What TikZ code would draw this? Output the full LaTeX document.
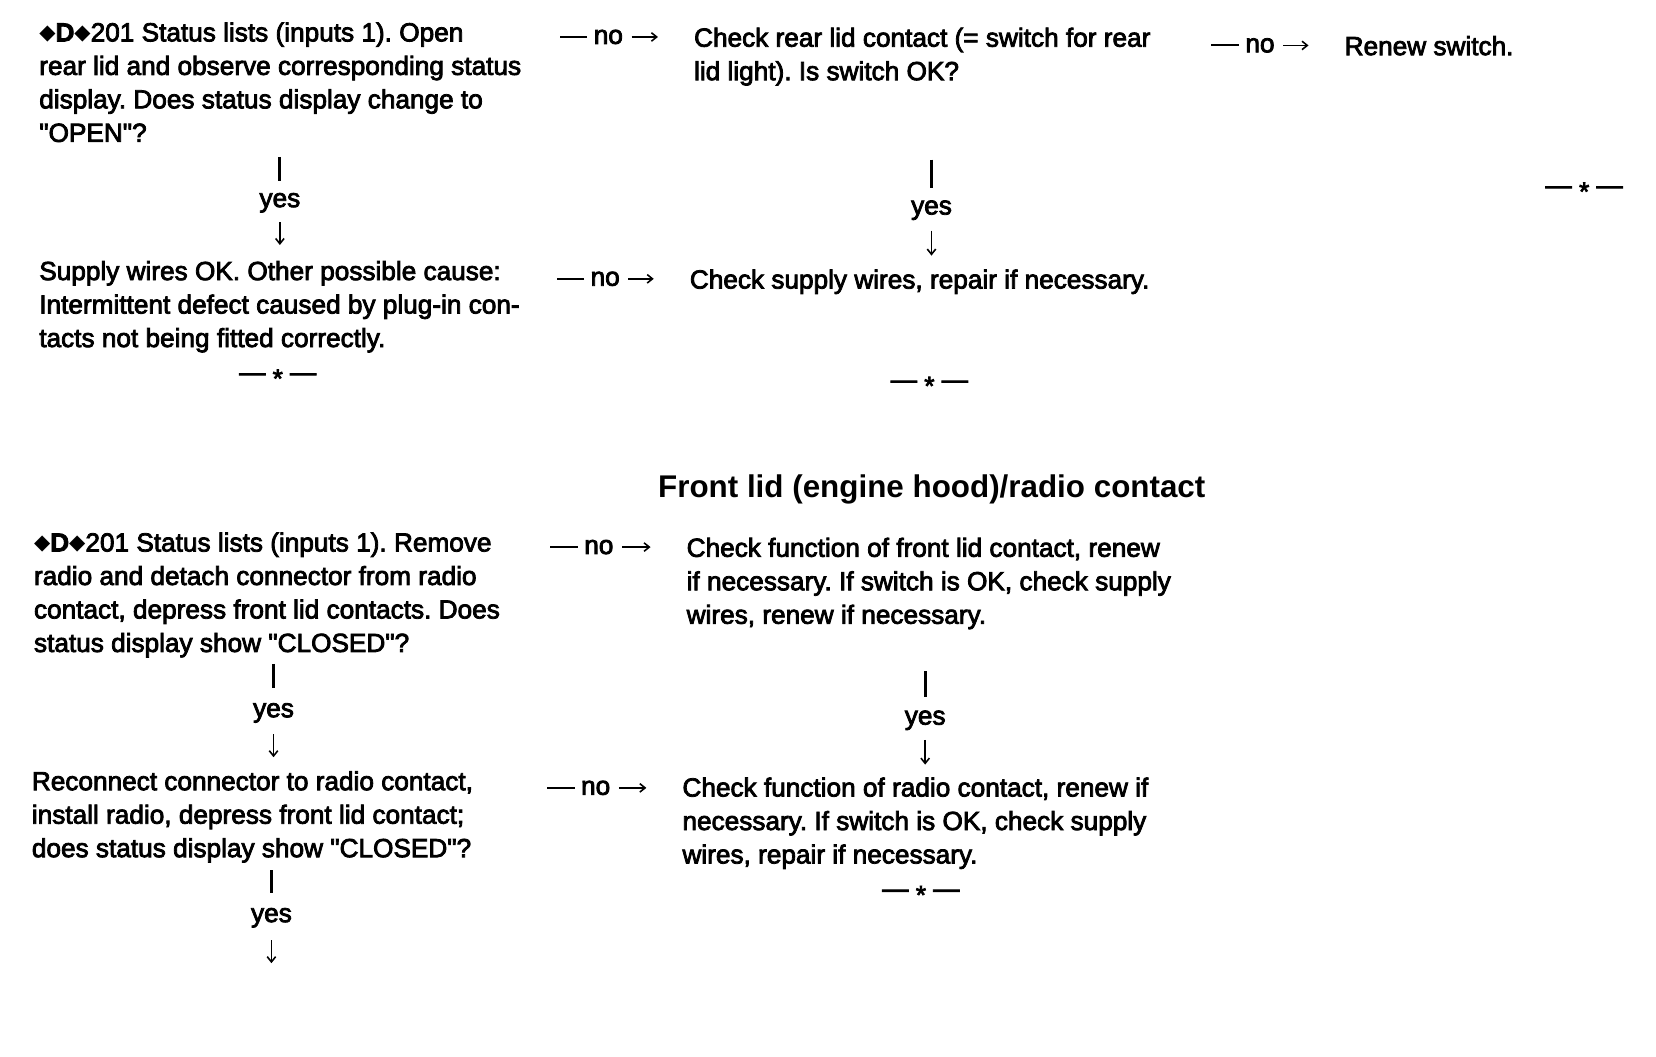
\documentclass[tikz,border=0pt]{standalone}
\usepackage{fontspec}
\setmainfont{Liberation Sans}
\newfontfamily\scanfont{Liberation Sans}[FakeBold=3]
\newfontfamily\djv{DejaVu Sans}
\usetikzlibrary{arrows.meta}
\frenchspacing
\newcommand\dmd{{\djv\fontsize{20}{20}\selectfont\raisebox{0.08em}{◆}}}
\newcommand\lnstrut{\rule[-7pt]{0pt}{31pt}}
\newcommand\bodyfnt{\scanfont\fontsize{24.8}{31.7}\selectfont\frenchspacing}
\tikzset{
  txt/.style={anchor=north west, inner sep=0pt, align=left, font=\bodyfnt},
  lab/.style={inner sep=0pt, font=\bodyfnt},
  sepmark/.style={anchor=base, inner sep=0pt, font=\bodyfnt},
  bar/.style={line width=2.8pt},
  dashline/.style={line width=1.8pt},
  arr/.style={line width=1.5pt, -{Straight Barb[length=5pt,width=8pt]}},
}
\begin{document}
\begin{tikzpicture}[x=1pt,y=-1pt]
\fill[white] (0,0) rectangle (1568,1000);
\useasboundingbox (0,0) rectangle (1568,1000);

% ---- upper part ----
\node[txt] (A1) at (37,15) {\lnstrut\dmd\textbf{D}\dmd201 Status lists (inputs 1). Open\\rear lid and observe corresponding status\\display. Does status display change to\\"OPEN"?\lnstrut};
\node[txt] (B1) at (657,20) {\lnstrut Check rear lid contact (= switch for rear\\lid light). Is switch OK?\lnstrut};
\node[txt] (R1) at (1273,28) {\lnstrut Renew switch.\lnstrut};
\node[txt] (A2) at (37,241) {\lnstrut Supply wires OK. Other possible cause:\\Intermittent defect caused by plug-in con-\\tacts not being fitted correctly.\lnstrut};
\node[txt] (B2) at (653,249) {\lnstrut Check supply wires, repair if necessary.\lnstrut};

% no connectors (upper)
\node[lab] (n1) at (576,35) {no};
\draw[dashline] ([xshift=-6pt]n1.west) -- ++(-26,0);
\draw[arr, shorten <=8pt, shorten >=34pt] (n1.east) -- (n1.east -| B1.west);
\node[lab] (n2) at (1193,43) {no};
\draw[dashline] ([xshift=-6pt]n2.west) -- ++(-26,0);
\draw[arr, shorten <=8pt, shorten >=34pt] (n2.east) -- (n2.east -| R1.west);
\node[lab] (n3) at (573,264) {no};
\draw[dashline] ([xshift=-6pt]n3.west) -- ++(-26,0);
\draw[arr, shorten <=8pt, shorten >=34pt] (n3.east) -- (n3.east -| B2.west);

% yes connectors (upper)
\node[lab] (y1) at (265,192) {yes};
\draw[bar, shorten <=7pt, shorten >=11pt] (A1.south -| y1) -- (y1.north);
\draw[arr, shorten <=9pt, shorten >=9pt] (y1.south) -- (y1 |- A2.north);
\node[lab] (y2) at (882,199) {yes};
\draw[bar, shorten <=68pt, shorten >=12pt] (B1.south -| y2) -- (y2.north);
\draw[arr, shorten <=10pt, shorten >=7pt] (y2.south) -- (y2 |- B2.north);

% end marks
\node[sepmark] (s1) at (263,360.7) {— \raisebox{-0.25em}{*} —};
\node[sepmark] (s2) at (880,367.7) {— \raisebox{-0.25em}{*} —};
\node[sepmark] (s3) at (1500,183.7) {— \raisebox{-0.25em}{*} —};

% ---- title ----
\node[anchor=base west, inner sep=0pt, font=\bfseries\fontsize{29.7}{34}\selectfont] (T) at (623,471) {Front lid (engine hood)/radio contact};

% ---- lower part ----
\node[txt] (A3) at (32,498) {\lnstrut\dmd\textbf{D}\dmd201 Status lists (inputs 1). Remove\\radio and detach connector from radio\\contact, depress front lid contacts. Does\\status display show "CLOSED"?\lnstrut};
\node[txt] (B3) at (650,503) {\lnstrut Check function of front lid contact, renew\\if necessary. If switch is OK, check supply\\wires, renew if necessary.\lnstrut};
\node[txt] (A4) at (30,724) {\lnstrut Reconnect connector to radio contact,\\install radio, depress front lid contact;\\does status display show "CLOSED"?\lnstrut};
\node[txt] (B4) at (646,730) {\lnstrut Check function of radio contact, renew if\\necessary. If switch is OK, check supply\\wires, repair if necessary.\lnstrut};

\node[lab] (n4) at (567,518) {no};
\draw[dashline] ([xshift=-6pt]n4.west) -- ++(-26,0);
\draw[arr, shorten <=8pt, shorten >=34pt] (n4.east) -- (n4.east -| B3.west);
\node[lab] (n5) at (564,746) {no};
\draw[dashline] ([xshift=-6pt]n5.west) -- ++(-26,0);
\draw[arr, shorten <=8pt, shorten >=34pt] (n5.east) -- (n5.east -| B4.west);

\node[lab] (y3) at (259,675) {yes};
\draw[bar, shorten <=4pt, shorten >=14pt] (A3.south -| y3) -- (y3.north);
\draw[arr, shorten <=11pt, shorten >=7pt] (y3.south) -- (y3 |- A4.north);
\node[lab] (y4) at (876,682) {yes};
\draw[bar, shorten <=38pt, shorten >=13pt] (B3.south -| y4) -- (y4.north);
\draw[arr, shorten <=9pt, shorten >=6pt] (y4.south) -- (y4 |- B4.north);
\node[lab] (y5) at (257,869) {yes};
\coordinate (e5) at (257,912);
\draw[bar, shorten <=5pt, shorten >=14pt] (A4.south -| y5) -- (y5.north);
\draw[arr, shorten <=12pt] (y5.south) -- (e5);

\node[sepmark] (s4) at (872,849.7) {— \raisebox{-0.25em}{*} —};
\end{tikzpicture}
\end{document}
